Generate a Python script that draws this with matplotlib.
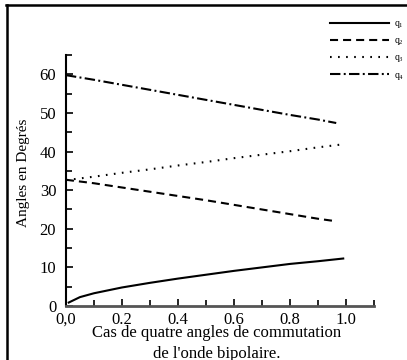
import matplotlib
matplotlib.use('Agg')
import matplotlib.pyplot as plt
from matplotlib.lines import Line2D
from matplotlib.ticker import MultipleLocator

plt.rcParams['font.family'] = ['Liberation Serif', 'DejaVu Serif']
plt.rcParams['mathtext.fontset'] = 'custom'
plt.rcParams['mathtext.rm'] = 'Liberation Serif'
plt.rcParams['lines.scale_dashes'] = False

# data
x_q1 = [0.01, 0.05, 0.1, 0.2, 0.3, 0.4, 0.5, 0.6, 0.7, 0.8, 0.9, 0.99]
q1 = [0.9, 2.3, 3.3, 4.8, 6.0, 7.1, 8.1, 9.1, 10.0, 10.9, 11.6, 12.3]
x_q2 = [0.0, 0.1, 0.2, 0.3, 0.4, 0.5, 0.6, 0.7, 0.8, 0.9, 0.95]
q2 = [32.7, 31.8, 30.7, 29.6, 28.5, 27.4, 26.2, 25.0, 23.8, 22.6, 22.1]
x_q3 = [0.0, 0.1, 0.2, 0.3, 0.4, 0.5, 0.6, 0.7, 0.8, 0.9, 0.98]
q3 = [32.6, 33.5, 34.5, 35.4, 36.4, 37.3, 38.3, 39.2, 40.1, 41.1, 41.8]
x_q4 = [0.0, 0.1, 0.2, 0.3, 0.4, 0.5, 0.6, 0.7, 0.8, 0.9, 0.965]
q4 = [59.8, 58.6, 57.3, 56.0, 54.7, 53.4, 52.1, 50.8, 49.5, 48.3, 47.4]
labels = ['$\\mathregular{q_1}$', '$\\mathregular{q_2}$',
          '$\\mathregular{q_3}$', '$\\mathregular{q_4}$']
xtick_vals = [0.0, 0.2, 0.4, 0.6, 0.8, 1.0]
xtick_labels = ['0,0', '0.2', '0.4', '0.6', '0.8', '1.0']

fig = plt.figure(figsize=(4.07, 3.6), dpi=100)
ax = fig.add_axes([0.162, 0.15, 0.757, 0.697])

ax.plot(x_q1, q1, color='black', lw=1.5, ls='-')
ax.plot(x_q2, q2, color='black', lw=1.5, ls=(0, (5.8, 3.6)))
ax.plot(x_q3, q3, color='black', lw=1.5, ls=(0, (1.2, 4.6)))
ax.plot(x_q4, q4, color='black', lw=1.5, ls=(0, (7.5, 2.4, 1.4, 2.4)))

ax.set_xlim(0, 1.1)
ax.set_ylim(0, 65)
ax.set_xticks(xtick_vals)
ax.set_xticklabels(xtick_labels)
ax.xaxis.set_minor_locator(MultipleLocator(0.1))
ax.set_yticks([0, 10, 20, 30, 40, 50, 60])
ax.yaxis.set_minor_locator(MultipleLocator(5))

ax.spines['top'].set_visible(False)
ax.spines['right'].set_visible(False)
ax.spines['left'].set_linewidth(1.5)
ax.spines['bottom'].set_linewidth(2)
ax.spines['bottom'].set_color('#555555')
ax.tick_params(which='major', direction='in', length=5, width=1.2, labelsize=12)
ax.tick_params(which='minor', direction='in', length=4, width=1.2)
ax.tick_params(axis='y', pad=7)
ax.tick_params(axis='x', pad=4)

# x label sits over the tick labels, as in the original
fig.text(0.533, 0.098, "Cas de quatre angles de commutation\nde l'onde bipolaire.",
         ha='center', va='top', fontsize=12, linespacing=1.4)
fig.text(0.057, 0.519, 'Angles en Degrés', rotation=90,
         ha='center', va='center', fontsize=11)

handles = ax.get_lines()
fig.legend(handles, labels, loc='upper left', bbox_to_anchor=(0.812, 0.946),
           frameon=False, fontsize=7, handlelength=6.0, handletextpad=0.5,
           labelspacing=0.62, borderpad=0, borderaxespad=0)

# frame lines on the top and left of the picture
fig.add_artist(Line2D([6 / 407, 1.0], [1 - 5 / 360, 1 - 5 / 360],
                      transform=fig.transFigure, color='black', lw=1.8))
fig.add_artist(Line2D([6.5 / 407, 6.5 / 407], [0.0, 1 - 5 / 360],
                      transform=fig.transFigure, color='black', lw=1.8))

plt.savefig('out.png', dpi=100)
